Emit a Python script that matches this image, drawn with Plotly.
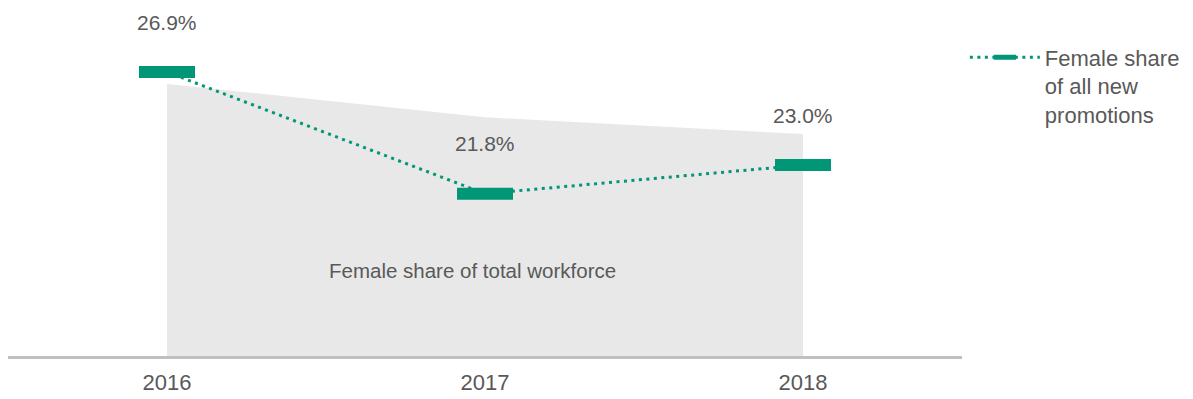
import plotly.graph_objects as go

# Data
years = ["2016", "2017", "2018"]
promotion_share = [26.9, 21.8, 23.0]      # female share of all new promotions (%)
workforce_share = [26.4, 25.0, 24.3]      # female share of total workforce (%)

GREEN = "#009676"
GREY_TEXT = "#595959"
AREA_FILL = "#E8E8E8"
FONT = "Liberation Sans, Arial, sans-serif"

fig = go.Figure()

# Workforce share as a shaded area
fig.add_trace(go.Scatter(
    x=years, y=workforce_share,
    mode="lines", fill="tozeroy",
    fillcolor=AREA_FILL, line=dict(width=0, color=AREA_FILL),
    showlegend=False, hoverinfo="skip",
))

# Promotion share: dotted connector with bar-shaped markers
fig.add_trace(go.Scatter(
    x=years, y=promotion_share,
    mode="lines+markers",
    name="Female share<br>of all new<br>promotions",
    line=dict(color=GREEN, width=3, dash="3px,4.5px"),
    marker=dict(symbol="line-ew", size=40, color=GREEN,
                line=dict(color=GREEN, width=12)),
))

# Value labels above the promotion markers (x given as category index)
for i, v in enumerate(promotion_share):
    fig.add_annotation(
        x=i, y=v, yshift=50, text=f"{v:.1f}%", showarrow=False,
        font=dict(family=FONT, size=21, color=GREY_TEXT),
    )

# Label inside the shaded area
fig.add_annotation(
    x=0.96, y=18.6, text="Female share of total workforce", showarrow=False,
    font=dict(family=FONT, size=20.5, color=GREY_TEXT),
)

fig.update_layout(
    width=1193, height=399,
    margin=dict(l=8, r=231, t=4, b=38),
    paper_bgcolor="white", plot_bgcolor="white",
    font=dict(family=FONT, color=GREY_TEXT),
    showlegend=True,
    legend=dict(
        x=1.003, xanchor="left", y=0.908, yanchor="top",
        itemwidth=70, valign="top",
        font=dict(family=FONT, size=22, color=GREY_TEXT),
        bgcolor="rgba(0,0,0,0)",
    ),
    xaxis=dict(
        type="category", range=[-0.5, 2.5],
        showgrid=False, zeroline=False,
        showline=True, linecolor="#C0C0C0", linewidth=2.5,
        ticks="", ticklabelstandoff=5,
        tickfont=dict(family=FONT, size=22, color=GREY_TEXT),
    ),
    yaxis=dict(
        range=[15, 29.75], visible=False,
        showgrid=False, zeroline=False,
    ),
)

fig.write_html("out.html")
